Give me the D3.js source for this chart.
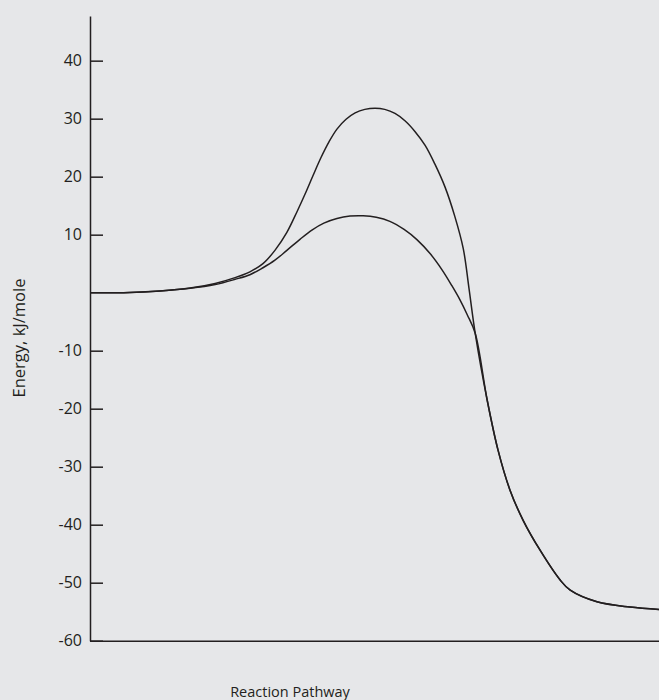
<!DOCTYPE html>
<html>
<head>
<meta charset="utf-8">
<script src="https://cdn.jsdelivr.net/npm/d3@7"></script>
<style>
  body { margin: 0; background: #e6e7e9; }
  svg { display: block; font-family: "Open Sans", sans-serif; }
</style>
</head>
<body>
<script>
// reaction progress (0-100, arbitrary) and energy in kJ/mole
const upperX = [0, 7.0, 12.3, 17.6, 22.0, 25.5, 28.1, 30.4, 32.5, 34.6, 36.4, 37.8, 39.2, 40.6, 42.0, 43.4, 45.0, 46.6, 48.3, 50.1, 51.8, 53.6, 55.4, 57.1, 58.9, 60.6, 62.4, 64.1, 65.6, 66.6];
const upperY = [0, 0.05, 0.3, 0.8, 1.6, 2.6, 3.6, 5.0, 7.3, 10.4, 14.0, 17.0, 20.2, 23.3, 26.0, 28.2, 29.9, 31.0, 31.6, 31.8, 31.6, 30.9, 29.6, 27.8, 25.4, 22.2, 18.2, 13.2, 7.6, 0.8];

const lowerX = [0, 7.0, 12.3, 17.6, 22.0, 25.5, 28.1, 30.4, 32.5, 34.6, 36.9, 39.0, 41.1, 43.4, 45.7, 48.0, 50.3, 52.7, 55.2, 57.5, 59.8, 61.9, 63.6, 65.0, 66.3];
const lowerY = [0, 0.05, 0.3, 0.75, 1.4, 2.3, 3.1, 4.3, 5.6, 7.3, 9.2, 10.8, 12.0, 12.8, 13.2, 13.25, 13.0, 12.3, 10.9, 9.1, 6.7, 3.9, 1.2, -1.2, -3.8];

// both pathways share the same descent to the products
const tailX = [67.7, 69.8, 71.7, 73.8, 76.1, 79.1, 82.6, 84.4, 89.1, 94.9, 100];
const tailY = [-7.0, -18.5, -27.1, -34.0, -39.2, -44.4, -49.5, -51.3, -53.3, -54.2, -54.6];

const yTicks = [40, 30, 20, 10, -10, -20, -30, -40, -50, -60];

const w = 659, h = 700;
const svg = d3.select("body").append("svg").attr("width", w).attr("height", h);

const x = d3.scaleLinear().domain([0, 100]).range([90, 659]);
const y = d3.scaleLinear().domain([-60, 47.7]).range([640.7, 16]);

const toPts = (xs, ys) => xs.map((v, i) => [v, ys[i]]);
const upper = toPts(upperX.concat(tailX), upperY.concat(tailY));
const lower = toPts(lowerX.concat(tailX), lowerY.concat(tailY));

const line = d3.line()
  .x(d => x(d[0]))
  .y(d => y(d[1]))
  .curve(d3.curveCatmullRom.alpha(0.5));

[upper, lower].forEach(pts => {
  svg.append("path")
    .datum(pts)
    .attr("fill", "none")
    .attr("stroke", "#231f20")
    .attr("stroke-width", 1.5)
    .attr("d", line);
});

// axes
const yAxis = svg.append("g")
  .attr("transform", "translate(90,0)")
  .call(d3.axisLeft(y).tickValues(yTicks).tickSizeInner(-13).tickSizeOuter(0).tickPadding(8).tickFormat(d => d));
yAxis.selectAll("text").attr("font-size", 16).attr("fill", "#231f20").style("font-family", "Open Sans");
yAxis.selectAll("line, path").attr("stroke", "#231f20").attr("stroke-width", 1.5);

const xAxis = svg.append("g")
  .attr("transform", "translate(0,640.7)")
  .call(d3.axisBottom(x).tickValues([]).tickSizeOuter(0));
xAxis.select("path").attr("stroke", "#231f20").attr("stroke-width", 1.5);

svg.append("text")
  .attr("x", 290).attr("y", 697)
  .attr("text-anchor", "middle")
  .attr("font-size", 14.5)
  .attr("fill", "#231f20")
  .text("Reaction Pathway");

svg.append("text")
  .attr("transform", "translate(25,338) rotate(-90)")
  .attr("text-anchor", "middle")
  .attr("font-size", 16.5)
  .attr("fill", "#231f20")
  .text("Energy, kJ/mole");
</script>
</body>
</html>
